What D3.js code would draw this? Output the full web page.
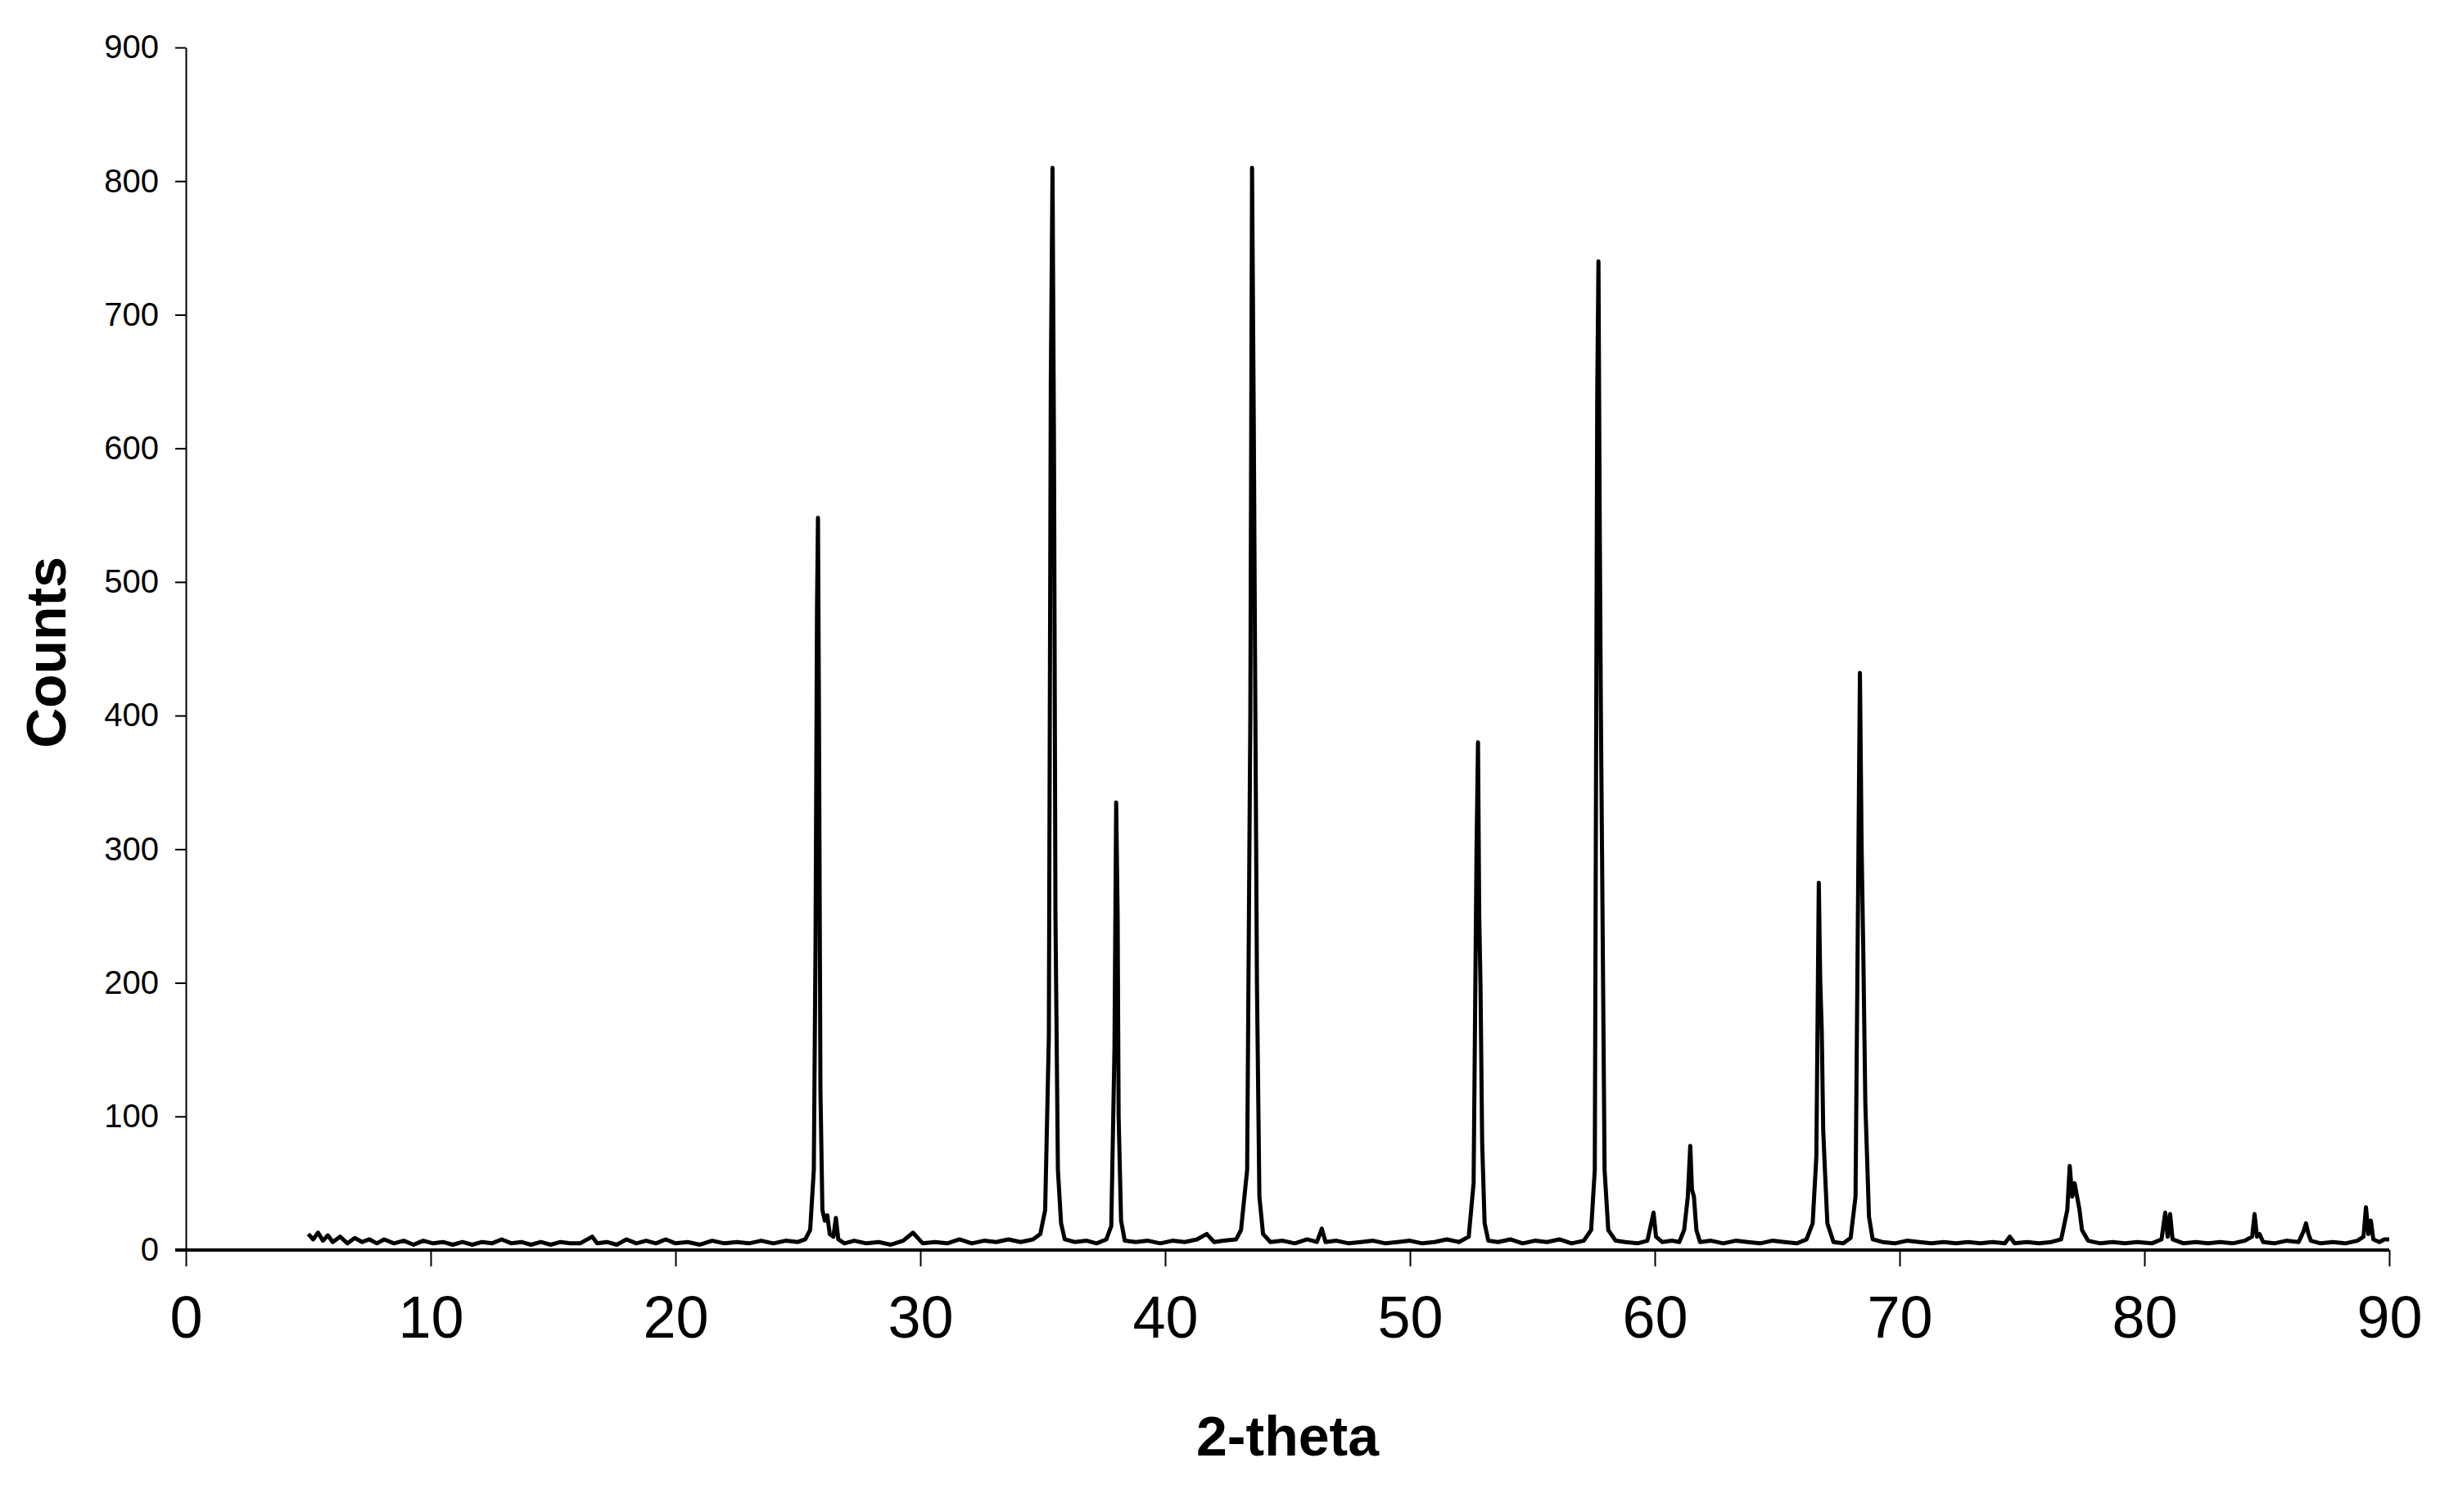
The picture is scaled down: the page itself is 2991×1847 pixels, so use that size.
<!DOCTYPE html>
<html><head><meta charset="utf-8">
<script src="https://cdn.jsdelivr.net/npm/d3@7"></script>
<style>html,body{margin:0;padding:0;background:#fff;}</style>
</head><body>
<svg id="c" width="2991" height="1847"></svg>
<script>
const xTicks = [0,10,20,30,40,50,60,70,80,90];
const yTicks = [0,100,200,300,400,500,600,700,800,900];
const xTitle = "2-theta";
const yTitle = "Counts";
const twoTheta = [5.0,5.2,5.4,5.6,5.8,6.0,6.3,6.6,6.9,7.2,7.5,7.8,8.1,8.5,8.9,9.3,9.7,10.1,10.5,10.9,11.3,11.7,12.1,12.5,12.9,13.3,13.7,14.1,14.5,14.9,15.3,15.7,16.1,16.6,16.8,17.2,17.6,18.0,18.4,18.8,19.2,19.6,20.0,20.5,21.0,21.5,22.0,22.5,23.0,23.5,24.0,24.5,25.0,25.3,25.5,25.65,25.72,25.78,25.82,25.86,25.92,26.0,26.1,26.2,26.3,26.45,26.55,26.65,26.9,27.3,27.8,28.3,28.8,29.3,29.7,30.1,30.6,31.1,31.6,32.1,32.6,33.1,33.6,34.1,34.6,34.9,35.1,35.25,35.33,35.4,35.46,35.52,35.62,35.75,35.9,36.3,36.8,37.2,37.6,37.8,37.93,38.0,38.06,38.1,38.2,38.35,38.8,39.3,39.8,40.3,40.8,41.3,41.7,42.0,42.4,42.9,43.1,43.35,43.48,43.55,43.62,43.67,43.75,43.85,44.0,44.3,44.8,45.3,45.8,46.2,46.4,46.55,47.0,47.5,48.0,48.5,49.0,49.5,50.0,50.5,51.0,51.5,52.0,52.4,52.6,52.72,52.78,52.83,52.88,52.95,53.05,53.2,53.6,54.1,54.6,55.1,55.6,56.1,56.6,57.1,57.4,57.55,57.65,57.7,57.75,57.8,57.88,57.95,58.1,58.4,58.8,59.3,59.7,59.95,60.05,60.3,60.7,61.0,61.2,61.35,61.45,61.52,61.6,61.7,61.85,62.3,62.8,63.3,63.8,64.3,64.8,65.3,65.8,66.2,66.45,66.6,66.7,66.76,66.82,66.88,66.95,67.05,67.3,67.7,68.0,68.2,68.32,68.38,68.45,68.52,68.6,68.75,68.9,69.3,69.8,70.3,70.8,71.3,71.8,72.3,72.8,73.3,73.8,74.3,74.5,74.7,75.2,75.7,76.2,76.6,76.85,76.95,77.05,77.15,77.25,77.35,77.45,77.7,78.2,78.7,79.2,79.7,80.3,80.7,80.85,80.95,81.05,81.15,81.6,82.1,82.6,83.1,83.6,84.1,84.4,84.5,84.6,84.7,84.85,85.3,85.8,86.3,86.5,86.6,86.7,86.8,87.2,87.7,88.2,88.7,88.95,89.05,89.15,89.25,89.35,89.6,89.8,90.0];
const counts = [12,8,13,7,11,6,10,5,9,6,8,5,8,5,7,4,7,5,6,4,6,4,6,5,8,5,6,4,6,4,6,5,5,10,5,6,4,8,5,7,5,8,5,6,4,7,5,6,5,7,5,7,6,8,15,60,230,480,548,400,120,30,22,26,12,10,24,8,5,7,5,6,4,7,13,5,6,5,8,5,7,6,8,6,8,12,30,160,650,810,600,250,60,20,8,6,7,5,8,18,150,335,250,100,22,7,6,7,5,7,6,8,12,6,7,8,15,60,400,810,620,450,200,40,12,6,7,5,8,6,16,6,7,5,6,7,5,6,7,5,6,8,6,10,50,300,380,250,200,80,20,7,6,8,5,7,6,8,5,7,15,60,640,740,550,400,220,60,15,7,6,5,7,28,10,6,7,6,15,40,78,45,40,15,6,7,5,7,6,5,7,6,5,8,20,70,275,200,165,90,60,20,6,5,9,40,300,432,300,220,110,25,8,6,5,7,6,5,6,5,6,5,6,5,10,5,6,5,6,8,30,63,40,50,40,30,15,7,5,6,5,6,5,8,28,10,27,8,5,6,5,6,5,7,10,27,10,12,6,5,7,6,14,20,12,7,5,6,5,7,10,32,12,22,8,6,8,8];

const svg = d3.select("#c");
const x = d3.scaleLinear().domain([0,90]).range([227,2918]);
const y = d3.scaleLinear().domain([0,900]).range([1527,58]);
const font = "Arial, 'Liberation Sans', sans-serif";

const data = twoTheta.map((t,i)=>[t,counts[i]]);
svg.append("path").datum(data)
  .attr("fill","none").attr("stroke","#000").attr("stroke-width",5)
  .attr("stroke-linejoin","round")
  .attr("d", d3.line().x(d=>x(d[0])).y(d=>y(d[1])));

// y axis
const ya = svg.append("g").attr("transform","translate(227,0)")
  .call(d3.axisLeft(y).tickValues(yTicks).tickSize(13).tickPadding(20).tickSizeOuter(0));
ya.select(".domain").attr("stroke-width",2);
ya.selectAll("line").attr("stroke-width",2);
ya.selectAll("text").attr("font-family",font).attr("font-size",40).attr("fill","#000");

// x axis
const xa = svg.append("g").attr("transform","translate(0,1527)")
  .call(d3.axisBottom(x).tickValues(xTicks).tickSize(20).tickPadding(36).tickSizeOuter(0));
xa.select(".domain").attr("stroke-width",4).attr("d","M214,0H2918");
xa.selectAll("line").attr("stroke-width",2);
xa.selectAll("text").attr("font-family",font).attr("font-size",72).attr("fill","#000");

svg.append("text").attr("x",(227+2918)/2).attr("y",1778).attr("text-anchor","middle")
  .attr("font-family",font).attr("font-weight","bold").attr("font-size",68).text(xTitle);
svg.append("text").attr("transform","translate(80,797) rotate(-90)").attr("text-anchor","middle")
  .attr("font-family",font).attr("font-weight","bold").attr("font-size",68).text(yTitle);
</script>
</body></html>
